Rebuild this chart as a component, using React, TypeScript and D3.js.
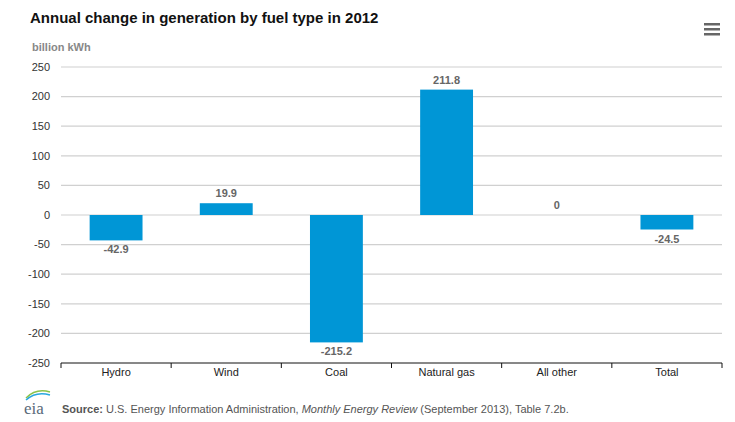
import * as d3 from "d3";

const categories = ["Hydro", "Wind", "Coal", "Natural gas", "All other", "Total"];
const values = [-42.9, 19.9, -215.2, 211.8, 0, -24.5];
const yTicks = [-250, -200, -150, -100, -50, 0, 50, 100, 150, 200, 250];

const W = 735;
const H = 422;
const M = { top: 67, right: 13, bottom: 59, left: 61 };
const IW = W - M.left - M.right;
const IH = H - M.top - M.bottom;
const FONT = "'Liberation Sans', Arial, Helvetica, sans-serif";

export default function App() {
  const x = d3.scaleBand<string>().domain(categories).range([0, IW]).paddingInner(0.52).paddingOuter(0.26);
  const band = d3.scaleBand<string>().domain(categories).range([0, IW]);
  const y = d3.scaleLinear().domain([-250, 250]).range([IH, 0]);

  return (
    <svg width={W} height={H} style={{ position: "absolute", left: 0, top: 0, fontFamily: FONT }}>
      <rect width={W} height={H} fill="#fff" />
      <text x={30} y={23} fontSize={15} fontWeight="bold" fill="#111">
        Annual change in generation by fuel type in 2012
      </text>
      <text x={32} y={51} fontSize={11} fontWeight="bold" fill="#888">billion kWh</text>

      {/* menu icon */}
      <g fill="#666">
        {[0, 5, 10].map(d => (
          <rect key={d} x={704} y={23 + d} width={16} height={2.5} />
        ))}
      </g>

      <g transform={`translate(${M.left},${M.top})`}>
        {yTicks.map(t => (
          <g key={t}>
            {t !== -250 && (
              <line x1={0} x2={IW} y1={y(t)} y2={y(t)} stroke="#d0d0d0" strokeWidth={1.2} />
            )}
            <text x={-11} y={y(t)} dy="0.35em" textAnchor="end" fontSize={11} fill="#333">
              {t}
            </text>
          </g>
        ))}

        {/* baseline axis */}
        <line x1={0} x2={IW} y1={IH} y2={IH} stroke="#111" strokeWidth={1} />
        {categories.map(c => (
          <line key={c} x1={band(c)!} x2={band(c)!} y1={IH} y2={IH + 5} stroke="#111" />
        ))}
        <line x1={IW} x2={IW} y1={IH} y2={IH + 5} stroke="#111" />
        {categories.map(c => (
          <text key={c} x={band(c)! + band.bandwidth() / 2} y={IH + 13} textAnchor="middle" fontSize={11} fill="#222">
            {c}
          </text>
        ))}

        {categories.map((c, i) => {
          const v = values[i];
          const top = y(Math.max(0, v));
          const h = Math.abs(y(v) - y(0));
          return (
            <g key={c}>
              {v !== 0 && <rect x={x(c)!} y={top} width={x.bandwidth()} height={h} fill="#0096d6" />}
              <text
                x={x(c)! + x.bandwidth() / 2}
                y={v >= 0 ? y(v) - 6 : y(v) + 13}
                textAnchor="middle"
                fontSize={11}
                fontWeight="bold"
                fill="#666"
              >
                {v === 0 ? "0" : v.toFixed(1)}
              </text>
            </g>
          );
        })}
      </g>

      {/* eia logo */}
      <g>
        <path d="M26 398 Q36 388 50 392" fill="none" stroke="#8bc34a" strokeWidth={1.5} />
        <path d="M26 400 Q36 391 50 395" fill="none" stroke="#29a8e0" strokeWidth={1.5} />
        <text x={24} y={414} fontSize={17} fill="#5a6a7a" fontFamily="'Liberation Serif', serif">eia</text>
      </g>
      <text x={62} y={413} fontSize={11} fill="#555">
        <tspan fontWeight="bold">Source:</tspan> U.S. Energy Information Administration,{" "}
        <tspan fontStyle="italic">Monthly Energy Review</tspan> (September 2013), Table 7.2b.
      </text>
    </svg>
  );
}
